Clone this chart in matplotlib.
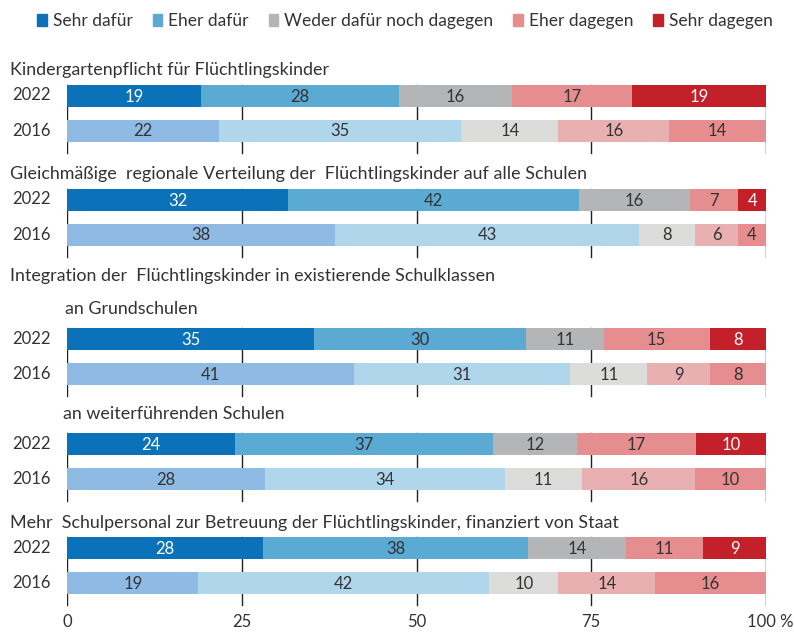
import numpy as np
import matplotlib.pyplot as plt
from matplotlib.patches import Patch

plt.rcParams['font.family'] = ['Lato', 'DejaVu Sans']

categories = ["Sehr dafür", "Eher dafür", "Weder dafür noch dagegen", "Eher dagegen", "Sehr dagegen"]
years = ["2022", "2016"]

# Werte pro Aussage: [2022, 2016]
kindergarten = [[19, 28, 16, 17, 19], [22, 35, 14, 16, 14]]
verteilung = [[32, 42, 16, 7, 4], [38, 43, 8, 6, 4]]
grundschulen = [[35, 30, 11, 15, 8], [41, 31, 11, 9, 8]]
weiterfuehrend = [[24, 37, 12, 17, 10], [28, 34, 11, 16, 10]]
schulpersonal = [[28, 38, 14, 11, 9], [19, 42, 10, 14, 16]]
groups = [kindergarten, verteilung, grundschulen, weiterfuehrend, schulpersonal]

colors_2022 = ['#0b72b9', '#5aaad4', '#b3b5b7', '#e68d8f', '#c42029']
colors_2016 = ['#8fbae3', '#afd6ea', '#dcdddb', '#e9b0b1', '#e68d8f']
text_2022 = ['white', '#333333', '#333333', '#333333', 'white']

W, H = 794, 633
fig = plt.figure(figsize=(W / 100, H / 100), dpi=100)
ax = fig.add_axes([67 / W, 0, 699 / W, 1])
ax.set_xlim(0, 100)
ax.set_ylim(H, 0)
ax.axis('off')

def ftext(x, y, s, **kw):
    fig.text(x / W, 1 - y / H, s, va='center', color='#333333', **kw)

# Layout (Pixel-Positionen der 2022-Balken)
row_y = [95.5, 199.5, 339, 444, 548]
gap = 35
bar_h = 22

for gi, (vals, y0) in enumerate(zip(groups, row_y)):
    # Gitterlinien pro Gruppe
    for t in [0, 25, 50, 75, 100]:
        ax.plot([t, t], [y0 - bar_h / 2, y0 + gap + bar_h / 2 + 11], color='#222222', lw=1, zorder=1)
    for yi, (row, cols) in enumerate(zip(vals, [colors_2022, colors_2016])):
        y = y0 + yi * gap
        arr = np.array(row, dtype=float)
        arr = arr / arr.sum() * 100
        left = np.concatenate([[0], np.cumsum(arr)[:-1]])
        ax.barh(y, arr, left=left, height=bar_h, color=cols, zorder=2)
        for k in range(5):
            tc = text_2022[k] if yi == 0 else '#333333'
            ax.text(left[k] + arr[k] / 2, y + 1, str(row[k]), ha='center', va='center',
                    color=tc, fontsize=12, zorder=3)
        ftext(12, y, years[yi], fontsize=12)

titles = [
    (10, 70, "Kindergartenpflicht für Flüchtlingskinder"),
    (10, 174, "Gleichmäßige  regionale Verteilung der  Flüchtlingskinder auf alle Schulen"),
    (10, 276, "Integration der  Flüchtlingskinder in existierende Schulklassen"),
    (65, 309, "an Grundschulen"),
    (63, 414, "an weiterführenden Schulen"),
    (10, 523, "Mehr  Schulpersonal zur Betreuung der Flüchtlingskinder, finanziert von Staat"),
]
for x, y, s in titles:
    ftext(x, y, s, fontsize=12.9)

# x-Achse
for t in [0, 25, 50, 75]:
    ax.text(t, 622, str(t), ha='center', va='center', color='#333333', fontsize=12)
ftext(770, 622, "100 %", fontsize=12, ha='center')

handles = [Patch(color=c) for c in colors_2022]
fig.legend(handles, categories, loc='center', bbox_to_anchor=(405 / W, 1 - 21 / H), ncol=5,
           frameon=False, handlelength=0.55, handleheight=0.75, handletextpad=0.35,
           columnspacing=1.15, fontsize=12.5, labelcolor='#333333')

fig.savefig("out.png", dpi=100)
